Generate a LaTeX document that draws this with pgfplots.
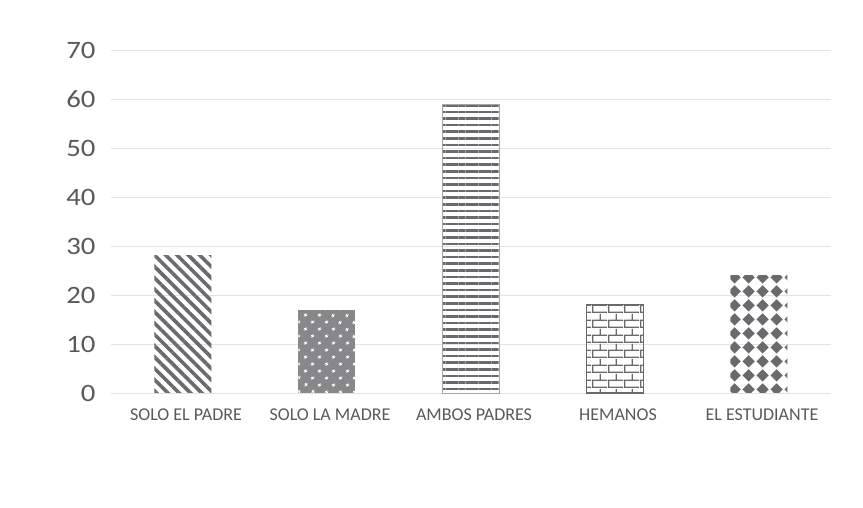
\documentclass[border=0pt]{standalone}
\usepackage{pgfplots}
\pgfplotsset{compat=1.18}
\usepackage{fontspec}
\setmainfont{Carlito}
\usetikzlibrary{patterns,patterns.meta}

\definecolor{txt}{HTML}{595959}
\definecolor{bargray}{HTML}{6A6A6E}

% ladrillos
\pgfdeclarepattern{name=bricks, type=uncolored,
  bottom left={\pgfpointorigin}, top right={\pgfpoint{16pt}{15pt}},
  tile size={\pgfpoint{16pt}{15pt}},
  code={
    \pgfsetlinewidth{1.3pt}
    \pgfpathmoveto{\pgfpoint{0pt}{0.7pt}}\pgfpathlineto{\pgfpoint{16pt}{0.7pt}}
    \pgfpathmoveto{\pgfpoint{0pt}{8.2pt}}\pgfpathlineto{\pgfpoint{16pt}{8.2pt}}
    \pgfpathmoveto{\pgfpoint{0.7pt}{0.7pt}}\pgfpathlineto{\pgfpoint{0.7pt}{8.2pt}}
    \pgfpathmoveto{\pgfpoint{8.7pt}{8.2pt}}\pgfpathlineto{\pgfpoint{8.7pt}{15pt}}
    \pgfusepath{stroke}
  }}
% rombos
\pgfdeclarepattern{name=diamonds, type=uncolored,
  bottom left={\pgfpointorigin}, top right={\pgfpoint{14pt}{14pt}},
  tile size={\pgfpoint{14pt}{14pt}},
  code={
    \pgfpathmoveto{\pgfpoint{0.5pt}{7pt}}
    \pgfpathlineto{\pgfpoint{7pt}{0.5pt}}
    \pgfpathlineto{\pgfpoint{13.5pt}{7pt}}
    \pgfpathlineto{\pgfpoint{7pt}{13.5pt}}
    \pgfpathclose
    \pgfusepath{fill}
  }}

\begin{document}
\begin{tikzpicture}[x=1pt,y=1pt]
\begin{axis}[
  name=ax,
  at={(0,0)}, anchor=south west,
  scale only axis,
  width=720pt, height=343pt,
  xmin=-0.5, xmax=4.5,
  ymin=0, ymax=70,
  ytick={0,10,...,70},
  xtick={0,1,2,3,4},
  xticklabels={SOLO EL PADRE, SOLO LA MADRE, AMBOS PADRES, HEMANOS, EL ESTUDIANTE},
  axis line style={draw=none},
  major tick length=0pt,
  ymajorgrids,
  grid style={gray!22, line width=0.8pt},
  yticklabel={\scalebox{1.15}[1]{\pgfmathprintnumber{\tick}}},
  yticklabel style={font=\fontsize{25}{25}\selectfont, text=txt, xshift=-12pt},
  xticklabel style={font=\fontsize{18}{18}\selectfont, text=txt, yshift=-12pt, xshift=3pt},
  /pgf/number format/assume math mode=true,
  ybar, bar width=57pt,
  clip=false,
]
\addplot[bar shift=0pt, draw=none, pattern={Lines[angle=-45, distance=8pt, line width=3.6pt]}, pattern color=bargray]
  coordinates {(0,28)};
\addplot[bar shift=0pt, draw=none, fill=bargray!80, postaction={pattern={Dots[angle=45, distance=10.5pt, radius=1.6pt]}, pattern color=white}]
  coordinates {(1,17)};
\addplot[bar shift=0pt, draw=bargray!60, line width=0.4pt, pattern={Lines[angle=0, distance=6.6pt, line width=2.6pt]}, pattern color=bargray]
  coordinates {(2,59)};
\addplot[bar shift=0pt, draw=bargray, line width=1.2pt, pattern=bricks, pattern color=bargray]
  coordinates {(3,18)};
\addplot[bar shift=0pt, draw=none, pattern=diamonds, pattern color=bargray]
  coordinates {(4,24)};
\end{axis}
\path[use as bounding box] (-111,-115) rectangle (752,393);
\end{tikzpicture}
\end{document}
